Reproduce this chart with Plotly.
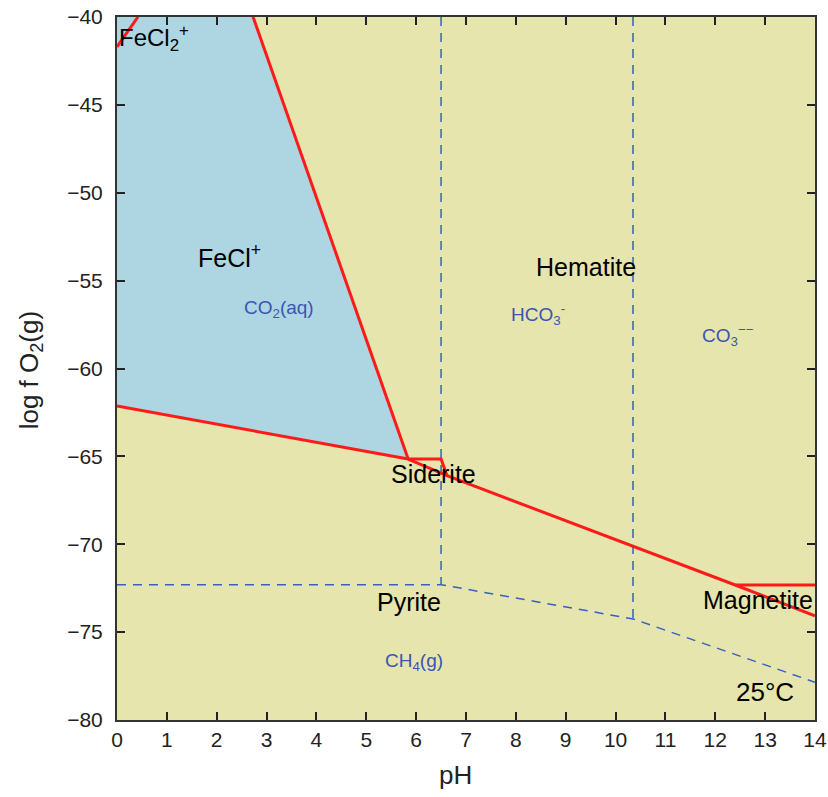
import plotly.graph_objects as go

# ---- data (pH, log fO2) ----
fecl2_boundary_x = [0.0, 0.42]
fecl2_boundary_y = [-41.7, -40.0]

fecl_upper_x = [2.73, 5.84]
fecl_upper_y = [-40.0, -65.15]

fecl_lower_x = [0.0, 5.84]
fecl_lower_y = [-62.13, -65.15]

siderite_top_x = [5.84, 6.5, 6.62]
siderite_top_y = [-65.15, -65.15, -66.1]

main_line_x = [5.84, 6.62, 12.4, 14.0]
main_line_y = [-65.15, -66.1, -72.32, -74.08]

magnetite_x = [12.4, 14.0]
magnetite_y = [-72.32, -72.32]

# blue region polygons
fecl_region_x = [0.0, 2.73, 5.84, 0.0]
fecl_region_y = [-40.0, -40.0, -65.15, -62.13]
fecl2_region_x = [0.0, 0.42, 0.0]
fecl2_region_y = [-40.0, -40.0, -41.7]

# dashed carbon species boundaries
carb_v1_x = [6.5, 6.5]
carb_v1_y = [-40.0, -72.3]
carb_v2_x = [10.35, 10.35]
carb_v2_y = [-40.0, -74.25]
ch4_x = [0.0, 6.5, 10.35, 14.0]
ch4_y = [-72.3, -72.3, -74.25, -77.85]

labels = [
    ("FeCl<sub>2</sub><sup>+</sup>", 0.0, -41.2, 24, "black", "left"),
    ("FeCl<sup>+</sup>", 2.25, -53.6, 25, "black", "center"),
    ("CO<sub>2</sub>(aq)", 3.25, -56.6, 19, "#3a55b4", "center"),
    ("Hematite", 9.4, -54.2, 25, "black", "center"),
    ("HCO<sub>3</sub><sup>-</sup>", 8.45, -56.9, 19, "#3a55b4", "center"),
    ("CO<sub>3</sub><sup>−−</sup>", 12.25, -58.1, 19, "#3a55b4", "center"),
    ("Siderite", 6.35, -66.0, 25, "black", "center"),
    ("Pyrite", 5.85, -73.3, 25, "black", "center"),
    ("CH<sub>4</sub>(g)", 5.95, -76.7, 19, "#3a55b4", "center"),
    ("Magnetite", 12.85, -73.2, 25, "black", "center"),
    ("25°C", 13.0, -78.4, 26, "black", "center"),
]

BLUE_FILL = "#add5e2"
YELLOW = "#e5e5ad"
RED = "#ff1a1a"
DASH = "#3a5fc0"
FONT = "Liberation Sans, Arial"

fig = go.Figure()
fig.add_trace(go.Scatter(x=fecl_region_x, y=fecl_region_y, fill="toself", fillcolor=BLUE_FILL,
                         line=dict(width=0), mode="lines", hoverinfo="skip"))
fig.add_trace(go.Scatter(x=fecl2_region_x, y=fecl2_region_y, fill="toself", fillcolor=BLUE_FILL,
                         line=dict(width=0), mode="lines", hoverinfo="skip"))

for xs, ys in [(carb_v1_x, carb_v1_y), (carb_v2_x, carb_v2_y), (ch4_x, ch4_y)]:
    fig.add_trace(go.Scatter(x=xs, y=ys, mode="lines",
                             line=dict(color=DASH, width=1.5, dash="9px,7px")))

for xs, ys in [(fecl2_boundary_x, fecl2_boundary_y), (fecl_upper_x, fecl_upper_y),
               (fecl_lower_x, fecl_lower_y), (siderite_top_x, siderite_top_y),
               (main_line_x, main_line_y), (magnetite_x, magnetite_y)]:
    fig.add_trace(go.Scatter(x=xs, y=ys, mode="lines", line=dict(color=RED, width=3)))

for text, x, y, size, color, anchor in labels:
    fig.add_annotation(x=x, y=y, text=text, showarrow=False, xanchor=anchor,
                       font=dict(size=size, color=color, family=FONT))

# axis titles
fig.add_annotation(xref="paper", yref="paper", x=0.485, y=-0.078, yanchor="middle",
                   text="pH", showarrow=False, font=dict(size=26, color="#222", family=FONT))
fig.add_annotation(xref="paper", yref="paper", x=-0.124, y=0.498, xanchor="center",
                   yanchor="middle", textangle=-90, text="log f O<sub>2</sub>(g)",
                   showarrow=False, font=dict(size=26, color="#222", family=FONT))

fig.update_layout(
    width=828, height=797,
    margin=dict(l=117, r=13, t=17, b=77),
    plot_bgcolor=YELLOW, paper_bgcolor="white",
    showlegend=False,
    font=dict(family=FONT, size=21, color="#222"),
)
fig.update_xaxes(range=[0, 14], dtick=1, ticks="inside", ticklen=8, tickwidth=1.5,
                 tickcolor="#222", showline=True, linecolor="#333", linewidth=2,
                 mirror="allticks", showgrid=False, zeroline=False, automargin=False,
                 tickfont=dict(size=21), ticklabelstandoff=0)
fig.update_yaxes(range=[-80, -40], dtick=5, ticks="inside", ticklen=8, tickwidth=1.5,
                 tickcolor="#222", showline=True, linecolor="#333", linewidth=2,
                 mirror="allticks", showgrid=False, zeroline=False, automargin=False,
                 tickfont=dict(size=21), ticklabelstandoff=8)

fig.write_html("out.html")
